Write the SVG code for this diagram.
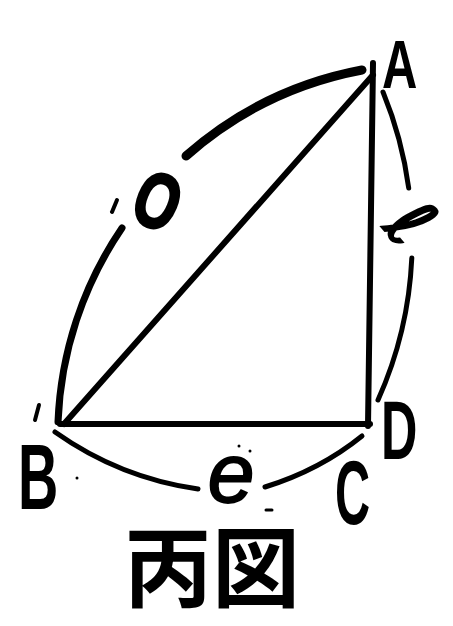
<svg xmlns="http://www.w3.org/2000/svg" width="453" height="626" viewBox="0 0 453 626">
<style>
.ln{fill:none;stroke:#000;stroke-linecap:round;stroke-linejoin:round}
.lb{font-family:"Liberation Sans",Arial,sans-serif;font-weight:bold;fill:#000}
.it{font-family:"Liberation Sans",Arial,sans-serif;font-style:italic;fill:#000}
.cjk{font-family:"Noto Sans CJK JP","Noto Sans CJK SC",sans-serif;font-weight:bold;fill:#000}
</style>
<rect width="453" height="626" fill="#fff"/>
<g id="connectors">
  <path id="chord-AB" class="ln" stroke-width="6" d="M373,75 L64,424"/>
  <path id="side-AD" class="ln" stroke-width="6" d="M373,63 L368,426"/>
  <path id="side-BD" class="ln" stroke-width="6" d="M60,424 L370,424"/>
  <path id="arc-AB-1" class="ln" stroke-width="9" d="M362,70 A370,370 0 0,0 186,156"/>
  <path id="arc-AB-2" class="ln" stroke-width="7" d="M122,228 A370,370 0 0,0 58,422"/>
  <path id="arc-AD-1" class="ln" stroke-width="5" d="M383,92 A389,389 0 0,1 408.7,188"/>
  <path id="arc-AD-2" class="ln" stroke-width="5" d="M411.8,258 A389,389 0 0,1 378,400"/>
  <path id="arc-BC-1" class="ln" stroke-width="5" d="M55,432 Q120,478 198,489"/>
  <path id="arc-BC-2" class="ln" stroke-width="5" d="M265,487 Q320,470 362,436"/>
  <path class="ln" stroke-width="4" d="M112,212 L117,200"/>
  <path class="ln" stroke-width="4" d="M35,420 L39,405"/>
  <path class="ln" stroke-width="3" d="M266,510 L272,510"/>
  <circle cx="239" cy="446" r="1.5"/>
  <circle cx="250" cy="451" r="1.5"/>
  <circle cx="77" cy="478" r="1.5"/>
</g>
<g id="node-A"><text class="lb" font-size="68" transform="translate(382,88) scale(0.72,1)">A</text></g>
<g id="node-B"><text class="lb" font-size="93" transform="translate(18,509) scale(0.6,1)">B</text></g>
<g id="node-C"><text class="lb" font-size="90" transform="translate(335,524) scale(0.54,1)">C</text></g>
<g id="node-D"><text class="lb" font-size="84" transform="translate(381,459) scale(0.6,1)">D</text></g>
<g id="label-O"><text class="lb" font-size="78" text-anchor="middle" stroke="#000" stroke-width="3" transform="translate(158,200) rotate(22) scale(0.72,1)" y="28">O</text></g>
<g id="label-l"><text font-family="DejaVu Sans,sans-serif" font-style="oblique" font-size="72" text-anchor="middle" stroke="#000" stroke-width="2" transform="translate(413,221) rotate(50)" y="28">ℓ</text></g>
<g id="label-e"><text class="it" font-size="84" text-anchor="middle" stroke="#000" stroke-width="1.8" x="231" y="502">e</text></g>
<g id="caption"><text class="cjk" font-size="88" x="124" y="600">丙図</text></g>
</svg>
